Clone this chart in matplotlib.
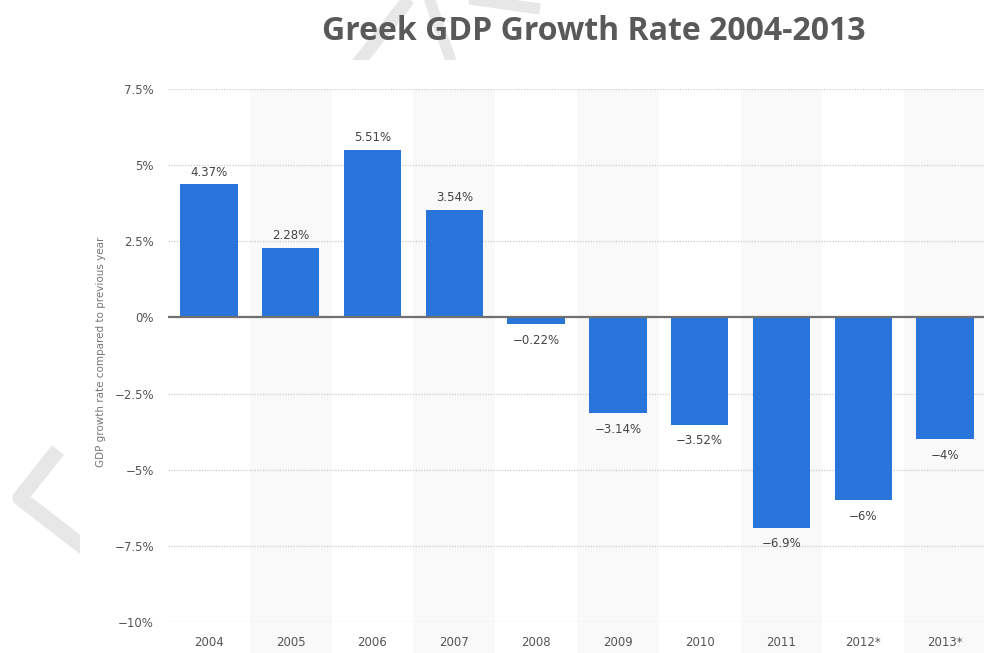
import matplotlib
matplotlib.use("Agg")
import matplotlib.pyplot as plt
from matplotlib.patches import Rectangle
from matplotlib.lines import Line2D
import matplotlib.transforms as mtransforms

years = ["2004", "2005", "2006", "2007", "2008", "2009", "2010", "2011", "2012*", "2013*"]
growth = [4.37, 2.28, 5.51, 3.54, -0.22, -3.14, -3.52, -6.9, -6.0, -4.0]
value_labels = ["4.37%", "2.28%", "5.51%", "3.54%", "\u22120.22%", "\u22123.14%",
                "\u22123.52%", "\u22126.9%", "\u22126%", "\u22124%"]
y_ticks = [7.5, 5, 2.5, 0, -2.5, -5, -7.5, -10]
y_tick_labels = ["7.5%", "5%", "2.5%", "0%", "\u22122.5%", "\u22125%", "\u22127.5%", "\u221210%"]

W, H = 984, 653
fig = plt.figure(figsize=(W / 100, H / 100), dpi=100)
fig.patch.set_facecolor("white")


def fx(px):
    return px / W


def fy(py):
    return 1 - py / H


# faint watermark strokes behind the chart panel
wm_color = "#e7e7e7"
for xs, ys, lw in [([58, 20, 95], [450, 498, 556], 11),
                   ([412, 356], [-5, 66], 9.5),
                   ([428, 452], [-5, 64], 8),
                   ([455, 540], [-3, 9], 8)]:
    fig.add_artist(Line2D([fx(x) for x in xs], [fy(y) for y in ys], color=wm_color,
                          lw=lw, solid_capstyle="butt", solid_joinstyle="round", zorder=-3))
fig.add_artist(Rectangle((fx(80), 0), 1 - fx(80), fy(60), transform=fig.transFigure,
                         facecolor="white", edgecolor="none", zorder=-2))

ax_left, ax_right = 168, 986
ax_top, ax_bottom = 89, 622
ax = fig.add_axes([fx(ax_left), fy(ax_bottom), (ax_right - ax_left) / W, (ax_bottom - ax_top) / H])
ax.set_facecolor("none")

n = len(years)
xpos = list(range(n))
ax.set_xlim(-0.5, n - 0.5)
ax.set_ylim(-10, 7.5)

# alternating column shading, running down behind the year labels
trans = mtransforms.blended_transform_factory(ax.transData, ax.transAxes)
for i in range(1, n, 2):
    ax.add_patch(Rectangle((i - 0.5, -0.06), 1.0, 1.06, transform=trans,
                           facecolor="#f9f9f9", edgecolor="none", zorder=0, clip_on=False))

# dotted horizontal grid
for t in y_ticks:
    if t != 0:
        ax.axhline(t, color="#d2d2d2", lw=1.0, ls=(0, (1, 1)), zorder=1)

bars = ax.bar(xpos, growth, width=0.70, color="#2874db", edgecolor="none", zorder=2)

ax.axhline(0, color="#707070", lw=1.6, zorder=3)

for x, v, lab in zip(xpos, growth, value_labels):
    if v >= 0:
        ax.annotate(lab, (x, v), xytext=(0, 4), textcoords="offset points",
                    ha="center", va="bottom", fontsize=8.5, color="#444444")
    else:
        ax.annotate(lab, (x, v), xytext=(0, -7), textcoords="offset points",
                    ha="center", va="top", fontsize=8.5, color="#444444")

ax.set_yticks(y_ticks)
ax.set_yticklabels(y_tick_labels, fontsize=8.5, color="#555555")
ax.set_xticks(xpos)
ax.set_xticklabels(years, fontsize=8.5, color="#555555")
ax.tick_params(axis="both", length=0)
ax.tick_params(axis="y", pad=10)
ax.tick_params(axis="x", pad=10)
for s in ax.spines.values():
    s.set_visible(False)

fig.text(fx(101), fy(352), "GDP growth rate compared to previous year", rotation=90,
         ha="center", va="center", fontsize=7.5, color="#777777")

fig.text(fx(594), fy(32), "Greek GDP Growth Rate 2004-2013", ha="center", va="center",
         fontsize=23, fontweight="bold", color="#595959",
         family=["Liberation Sans Narrow", "Open Sans", "DejaVu Sans"])

fig.savefig("out.png", dpi=100, facecolor="white")
